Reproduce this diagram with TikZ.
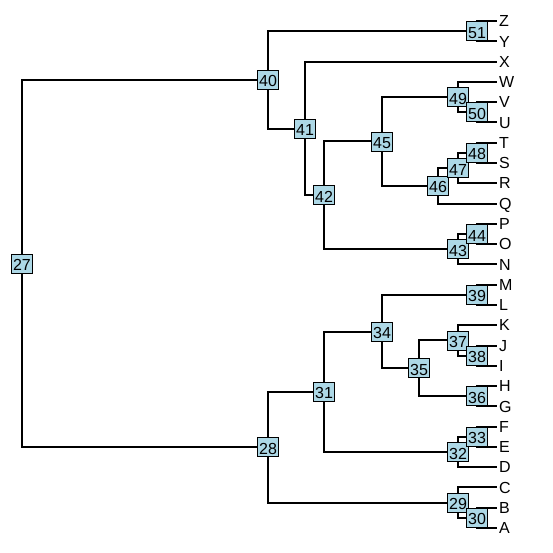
\documentclass[tikz,border=0pt]{standalone}
\usepackage{fontspec}
\setmainfont{Liberation Sans}
\definecolor{boxblue}{HTML}{ADD8E6}
\tikzset{
    branch/.style={line width=2pt},
    nlab/.style={draw, line width=0.8pt, fill=boxblue, inner xsep=1.6pt, inner ysep=1pt,
        text height=15.5pt, text depth=1.5pt, font=\fontsize{16}{18}\selectfont},
    tiplab/.style={anchor=west, inner sep=2pt, text height=11.5pt, text depth=0pt,
        font=\fontsize{16}{18}\selectfont}
}

\begin{document}
\begin{tikzpicture}[x=1pt, y=-1pt]
        \useasboundingbox (0, 0) rectangle (553, 552);
        % tips
        \coordinate (cZ) at (497, 21);
        \coordinate (cY) at (497, 41.3);
        \coordinate (cX) at (497, 61.6);
        \coordinate (cW) at (497, 81.8);
        \coordinate (cV) at (497, 102.1);
        \coordinate (cU) at (497, 122.4);
        \coordinate (cT) at (497, 142.7);
        \coordinate (cS) at (497, 163);
        \coordinate (cR) at (497, 183.2);
        \coordinate (cQ) at (497, 203.5);
        \coordinate (cP) at (497, 223.8);
        \coordinate (cO) at (497, 244.1);
        \coordinate (cN) at (497, 264.4);
        \coordinate (cM) at (497, 284.6);
        \coordinate (cL) at (497, 304.9);
        \coordinate (cK) at (497, 325.2);
        \coordinate (cJ) at (497, 345.5);
        \coordinate (cI) at (497, 365.8);
        \coordinate (cH) at (497, 386);
        \coordinate (cG) at (497, 406.3);
        \coordinate (cF) at (497, 426.6);
        \coordinate (cE) at (497, 446.9);
        \coordinate (cD) at (497, 467.2);
        \coordinate (cC) at (497, 487.4);
        \coordinate (cB) at (497, 507.7);
        \coordinate (cA) at (497, 528);
        % inner nodes
        \coordinate (c27) at (22, 263.5);
        \coordinate (c40) at (268, 79.8);
        \coordinate (c51) at (477, 31.1);
        \coordinate (c41) at (305, 128.5);
        \coordinate (c42) at (324, 195.3);
        \coordinate (c45) at (382, 141.4);
        \coordinate (c49) at (458, 97);
        \coordinate (c50) at (477, 112.3);
        \coordinate (c46) at (438, 185.8);
        \coordinate (c47) at (458, 168);
        \coordinate (c48) at (477, 152.8);
        \coordinate (c43) at (458, 249.2);
        \coordinate (c44) at (477, 234);
        \coordinate (c28) at (268, 447.2);
        \coordinate (c31) at (324, 391.8);
        \coordinate (c34) at (382, 331.6);
        \coordinate (c39) at (477, 294.8);
        \coordinate (c35) at (419, 368.3);
        \coordinate (c37) at (458, 340.4);
        \coordinate (c38) at (477, 355.6);
        \coordinate (c36) at (477, 396.2);
        \coordinate (c32) at (458, 452);
        \coordinate (c33) at (477, 436.8);
        \coordinate (c29) at (458, 502.6);
        \coordinate (c30) at (477, 517.9);
        % branches
        \draw[branch] (c27) |- (c40) (c27) |- (c28);
        \draw[branch] (c40) |- (c51) (c40) |- (c41);
        \draw[branch] (c51) |- (cZ) (c51) |- (cY);
        \draw[branch] (c41) |- (cX) (c41) |- (c42);
        \draw[branch] (c42) |- (c45) (c42) |- (c43);
        \draw[branch] (c45) |- (c49) (c45) |- (c46);
        \draw[branch] (c49) |- (cW) (c49) |- (c50);
        \draw[branch] (c50) |- (cV) (c50) |- (cU);
        \draw[branch] (c46) |- (c47) (c46) |- (cQ);
        \draw[branch] (c47) |- (c48) (c47) |- (cR);
        \draw[branch] (c48) |- (cT) (c48) |- (cS);
        \draw[branch] (c43) |- (c44) (c43) |- (cN);
        \draw[branch] (c44) |- (cP) (c44) |- (cO);
        \draw[branch] (c28) |- (c31) (c28) |- (c29);
        \draw[branch] (c31) |- (c34) (c31) |- (c32);
        \draw[branch] (c34) |- (c39) (c34) |- (c35);
        \draw[branch] (c39) |- (cM) (c39) |- (cL);
        \draw[branch] (c35) |- (c37) (c35) |- (c36);
        \draw[branch] (c37) |- (cK) (c37) |- (c38);
        \draw[branch] (c38) |- (cJ) (c38) |- (cI);
        \draw[branch] (c36) |- (cH) (c36) |- (cG);
        \draw[branch] (c32) |- (c33) (c32) |- (cD);
        \draw[branch] (c33) |- (cF) (c33) |- (cE);
        \draw[branch] (c29) |- (cC) (c29) |- (c30);
        \draw[branch] (c30) |- (cB) (c30) |- (cA);
        % node labels
        \node[nlab] (n27) at (c27) {27};
        \node[nlab] (n40) at (c40) {40};
        \node[nlab] (n51) at (c51) {51};
        \node[nlab] (n41) at (c41) {41};
        \node[nlab] (n42) at (c42) {42};
        \node[nlab] (n45) at (c45) {45};
        \node[nlab] (n49) at (c49) {49};
        \node[nlab] (n50) at (c50) {50};
        \node[nlab] (n46) at (c46) {46};
        \node[nlab] (n47) at (c47) {47};
        \node[nlab] (n48) at (c48) {48};
        \node[nlab] (n43) at (c43) {43};
        \node[nlab] (n44) at (c44) {44};
        \node[nlab] (n28) at (c28) {28};
        \node[nlab] (n31) at (c31) {31};
        \node[nlab] (n34) at (c34) {34};
        \node[nlab] (n39) at (c39) {39};
        \node[nlab] (n35) at (c35) {35};
        \node[nlab] (n37) at (c37) {37};
        \node[nlab] (n38) at (c38) {38};
        \node[nlab] (n36) at (c36) {36};
        \node[nlab] (n32) at (c32) {32};
        \node[nlab] (n33) at (c33) {33};
        \node[nlab] (n29) at (c29) {29};
        \node[nlab] (n30) at (c30) {30};
        % tip labels
        \node[tiplab] (tZ) at (cZ) {Z};
        \node[tiplab] (tY) at (cY) {Y};
        \node[tiplab] (tX) at (cX) {X};
        \node[tiplab] (tW) at (cW) {W};
        \node[tiplab] (tV) at (cV) {V};
        \node[tiplab] (tU) at (cU) {U};
        \node[tiplab] (tT) at (cT) {T};
        \node[tiplab] (tS) at (cS) {S};
        \node[tiplab] (tR) at (cR) {R};
        \node[tiplab] (tQ) at (cQ) {Q};
        \node[tiplab] (tP) at (cP) {P};
        \node[tiplab] (tO) at (cO) {O};
        \node[tiplab] (tN) at (cN) {N};
        \node[tiplab] (tM) at (cM) {M};
        \node[tiplab] (tL) at (cL) {L};
        \node[tiplab] (tK) at (cK) {K};
        \node[tiplab] (tJ) at (cJ) {J};
        \node[tiplab] (tI) at (cI) {I};
        \node[tiplab] (tH) at (cH) {H};
        \node[tiplab] (tG) at (cG) {G};
        \node[tiplab] (tF) at (cF) {F};
        \node[tiplab] (tE) at (cE) {E};
        \node[tiplab] (tD) at (cD) {D};
        \node[tiplab] (tC) at (cC) {C};
        \node[tiplab] (tB) at (cB) {B};
        \node[tiplab] (tA) at (cA) {A};
    \end{tikzpicture}
\end{document}
